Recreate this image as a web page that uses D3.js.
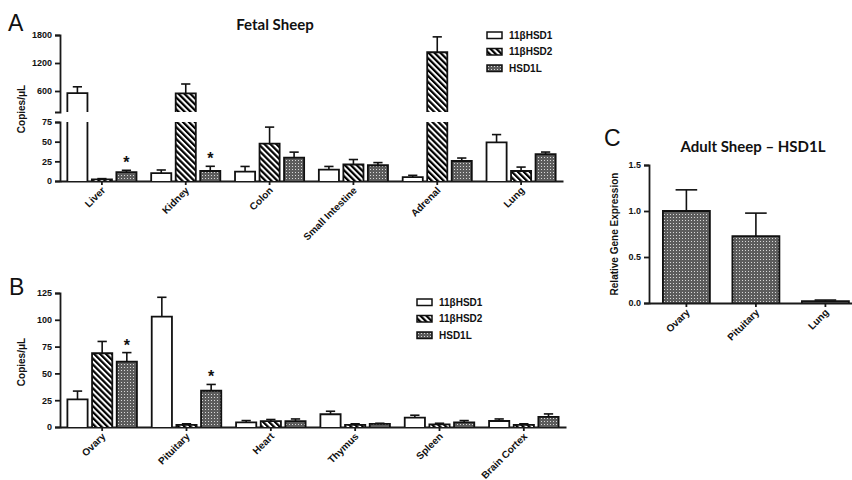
<!DOCTYPE html>
<meta charset="utf-8">
<head>
<title>HSD1L expression</title>
<style>
body { margin: 0; background-color: #FFF; }
text { font-family: 'Liberation Sans', Arial, sans-serif; fill: #111; }
.tick text { font-weight: bold; }
.domain, .tick line { stroke: #1a1a1a; stroke-width: 1.8px; }
.ylab, .leg { font-weight: bold; font-size: 10px; }
.title { font-family: 'Lato', 'Open Sans', sans-serif; font-weight: bold; font-size: 15px; }
.letter { font-size: 23px; }
.bar-line { fill: none; stroke: #111; stroke-width: 1.8px; }
.err { stroke: #111; stroke-width: 1.6px; }
</style>
</head>
<body>
<svg id="fig" width="852" height="480"></svg>
<script src="https://cdn.jsdelivr.net/npm/d3@7"></script>
<script>

var series = ["11βHSD1", "11βHSD2", "HSD1L"];

// panel A - fetal sheep (copies/uL), broken axis at 75
var catsA = ["Liver", "Kidney", "Colon", "Small Intestine", "Adrenal", "Lung"];
var hsd1A   = [555, 10, 12, 14.5, 5, 49];
var hsd1ASem = [135, 4, 6.5, 4, 2.2, 10];
var hsd2A   = [2, 550, 47.5, 21, 1430, 12.7];
var hsd2ASem = [1, 200, 21, 6.3, 330, 5];
var hsd1lA  = [11.4, 12.7, 29.7, 20, 25.4, 34];
var hsd1lASem = [2.2, 6, 7, 3.4, 3.8, 2.8];
var starA = ["Liver", "Kidney"];   // HSD1L marked

// panel B
var catsB = ["Ovary", "Pituitary", "Heart", "Thymus", "Spleen", "Brain Cortex"];
var hsd1B   = [25.7, 103, 4.4, 11.9, 8.8, 5.6];
var hsd1BSem = [7.8, 18, 1.6, 2.8, 2.2, 1.9];
var hsd2B   = [68.8, 2, 5.5, 2, 2.5, 2];
var hsd2BSem = [11, 1, 1.5, 1, 1, 1];
var hsd1lB  = [61, 33.8, 5.5, 3, 4.4, 9.4];
var hsd1lBSem = [8.4, 5.9, 2, 0.5, 1.6, 2.8];
var starB = ["Ovary", "Pituitary"];

// panel C - adult sheep HSD1L
var catsC = ["Ovary", "Pituitary", "Lung"];
var relC = [1.0, 0.727, 0.02];
var relCSem = [0.23, 0.25, 0.012];

var svg = d3.select("#fig");
var defs = svg.append("defs");

var hatch = defs.append("pattern").attr("id", "hatch")
    .attr("patternUnits", "userSpaceOnUse")
    .attr("width", 4.2).attr("height", 4.2)
    .attr("patternTransform", "rotate(-45)");
hatch.append("rect").attr("width", 4.2).attr("height", 4.2).attr("fill", "#fff");
hatch.append("rect").attr("width", 2.2).attr("height", 4.2).attr("fill", "#000");

var dots = defs.append("pattern").attr("id", "dots")
    .attr("patternUnits", "userSpaceOnUse")
    .attr("width", 3).attr("height", 3);
dots.append("rect").attr("width", 3).attr("height", 3).attr("fill", "#5c5c5c");
dots.append("rect").attr("x", 1).attr("y", 1).attr("width", 1).attr("height", 1).attr("fill", "#d8d8d8");

var fills = ["#fff", "url(#hatch)", "url(#dots)"];

function xAxis(g, x, y0) {
    var ax = g.append("g").attr("transform", "translate(0," + y0 + ")")
        .call(d3.axisBottom(x).tickSize(4).tickSizeOuter(0));
    ax.attr("font-size", 10);
    ax.selectAll("text").attr("x", 0).attr("y", 0).attr("dy", 0)
        .attr("text-anchor", "end")
        .attr("transform", "translate(4,10) rotate(-45)");
}

function yLabel(txt, x, y) {
    svg.append("text").attr("class", "ylab").attr("text-anchor", "middle")
        .attr("transform", "translate(" + x + "," + y + ") rotate(-90)").text(txt);
}

function legend(x, y) {
    var lg = svg.append("g").attr("transform", "translate(" + x + "," + y + ")");
    series.forEach(function(s, j) {
        lg.append("rect").attr("x", 0).attr("y", j * 16.5 - 3).attr("width", 15).attr("height", 6.5)
            .attr("fill", fills[j]).attr("stroke", "#111").attr("stroke-width", 1.5);
        lg.append("text").attr("class", "leg").attr("x", 22).attr("y", j * 16.5 + 3.7).text(s);
    });
}

// grouped bar panel; yOf maps a value to pixel, brk = optional broken-axis info
function groupedBars(cats, means, sems, stars, x, y0, yOf, brk) {
    var xi = d3.scaleBand().domain(series).range([0, x.bandwidth()])
        .paddingInner(0.18).paddingOuter(0.3);
    var w = xi.bandwidth();
    var g = svg.append("g");
    cats.forEach(function(c, i) {
        series.forEach(function(s, j) {
            var v = means[j][i], e = sems[j][i];
            var bx = x(c) + xi(s);
            var yt = yOf(v), p;
            if (brk && v > brk.lo) {
                g.append("rect").attr("x", bx).attr("y", brk.yB(brk.lo)).attr("width", w)
                    .attr("height", y0 - brk.yB(brk.lo)).attr("fill", fills[j]);
                g.append("rect").attr("x", bx).attr("y", yt).attr("width", w)
                    .attr("height", brk.yT(brk.hi) - yt).attr("fill", fills[j]);
                p = "M" + bx + "," + y0 + "V" + brk.yB(brk.lo) + "M" + (bx + w) + "," + brk.yB(brk.lo) + "V" + y0 +
                    "M" + bx + "," + brk.yT(brk.hi) + "V" + yt + "H" + (bx + w) + "V" + brk.yT(brk.hi);
            } else {
                g.append("rect").attr("x", bx).attr("y", yt).attr("width", w)
                    .attr("height", y0 - yt).attr("fill", fills[j]);
                p = "M" + bx + "," + y0 + "V" + yt + "H" + (bx + w) + "V" + y0;
            }
            g.append("path").attr("class", "bar-line").attr("d", p);
            var cx = bx + w / 2, ye = yOf(v + e);
            g.append("line").attr("class", "err").attr("x1", cx).attr("x2", cx).attr("y1", yt).attr("y2", ye);
            g.append("line").attr("class", "err").attr("x1", cx - w * 0.23).attr("x2", cx + w * 0.23).attr("y1", ye).attr("y2", ye);
            if (j == 2 && stars.indexOf(c) > -1) {
                g.append("text").attr("x", cx).attr("y", ye - 2).attr("text-anchor", "middle")
                    .attr("font-size", 16).attr("font-weight", "bold").text("*");
            }
        });
    });
}

// ---- Panel A ----
var xA = d3.scaleBand().domain(catsA).range([60, 563]);
var yAB = d3.scaleLinear().domain([0, 75]).range([181, 122]);
var yAT = d3.scaleLinear().domain([150, 1800]).range([112, 35]);
function yA(v) { return v <= 75 ? yAB(v) : yAT(v); }

var gA = svg.append("g");
gA.append("g").attr("transform", "translate(60,0)")
    .call(d3.axisLeft(yAB).tickValues([0, 25, 50, 75]).tickSize(5).tickSizeOuter(5)).attr("font-size", 9);
gA.append("g").attr("transform", "translate(60,0)")
    .call(d3.axisLeft(yAT).tickValues([600, 1200, 1800]).tickFormat(d3.format("d")).tickSize(5).tickSizeOuter(5))
    .attr("font-size", 9);
groupedBars(catsA, [hsd1A, hsd2A, hsd1lA], [hsd1ASem, hsd2ASem, hsd1lASem], starA, xA, 181, yA,
    {lo: 75, hi: 150, yB: yAB, yT: yAT});
xAxis(gA, xA, 181);
yLabel("Copies/μL", 25, 109);
legend(487, 35);
svg.append("text").attr("class", "title").attr("x", 275).attr("y", 30).attr("text-anchor", "middle").text("Fetal Sheep");
svg.append("text").attr("class", "letter").attr("x", 8).attr("y", 31).text("A");

// ---- Panel B ----
var xB = d3.scaleBand().domain(catsB).range([60, 566]);
var yB = d3.scaleLinear().domain([0, 125]).range([427, 293]);
var gB = svg.append("g");
gB.append("g").attr("transform", "translate(60,0)")
    .call(d3.axisLeft(yB).tickValues([0, 25, 50, 75, 100, 125]).tickSize(5).tickSizeOuter(5)).attr("font-size", 9);
groupedBars(catsB, [hsd1B, hsd2B, hsd1lB], [hsd1BSem, hsd2BSem, hsd1lBSem], starB, xB, 427, yB, null);
xAxis(gB, xB, 427);
yLabel("Copies/μL", 25, 362);
legend(417, 302);
svg.append("text").attr("class", "letter").attr("x", 9).attr("y", 295).text("B");

// ---- Panel C ----
var xC = d3.scaleBand().domain(catsC).range([649, 862.8]).paddingInner(0.324).paddingOuter(0.2);
var yC = d3.scaleLinear().domain([0, 1.5]).range([303, 165]);
var gC = svg.append("g");
gC.append("g").attr("transform", "translate(649,0)")
    .call(d3.axisLeft(yC).tickValues([0, 0.5, 1.0, 1.5]).tickFormat(d3.format(".1f")).tickSize(5).tickSizeOuter(5))
    .attr("font-size", 9);
var wC = xC.bandwidth();
catsC.forEach(function(c, i) {
    var bx = xC(c), yt = yC(relC[i]), ye = yC(relC[i] + relCSem[i]), cx = bx + wC / 2;
    gC.append("rect").attr("x", bx).attr("y", yt).attr("width", wC).attr("height", 303 - yt).attr("fill", fills[2]);
    gC.append("path").attr("class", "bar-line").attr("d", "M" + bx + ",303V" + yt + "H" + (bx + wC) + "V303");
    gC.append("line").attr("class", "err").attr("x1", cx).attr("x2", cx).attr("y1", yt).attr("y2", ye);
    gC.append("line").attr("class", "err").attr("x1", cx - wC * 0.23).attr("x2", cx + wC * 0.23).attr("y1", ye).attr("y2", ye);
});
xAxis(gC, xC, 303);
yLabel("Relative Gene Expression", 618, 234);
svg.append("text").attr("class", "title").attr("x", 753).attr("y", 152).attr("text-anchor", "middle").text("Adult Sheep – HSD1L");
svg.append("text").attr("class", "letter").attr("x", 604).attr("y", 146).text("C");

</script>
</body>
